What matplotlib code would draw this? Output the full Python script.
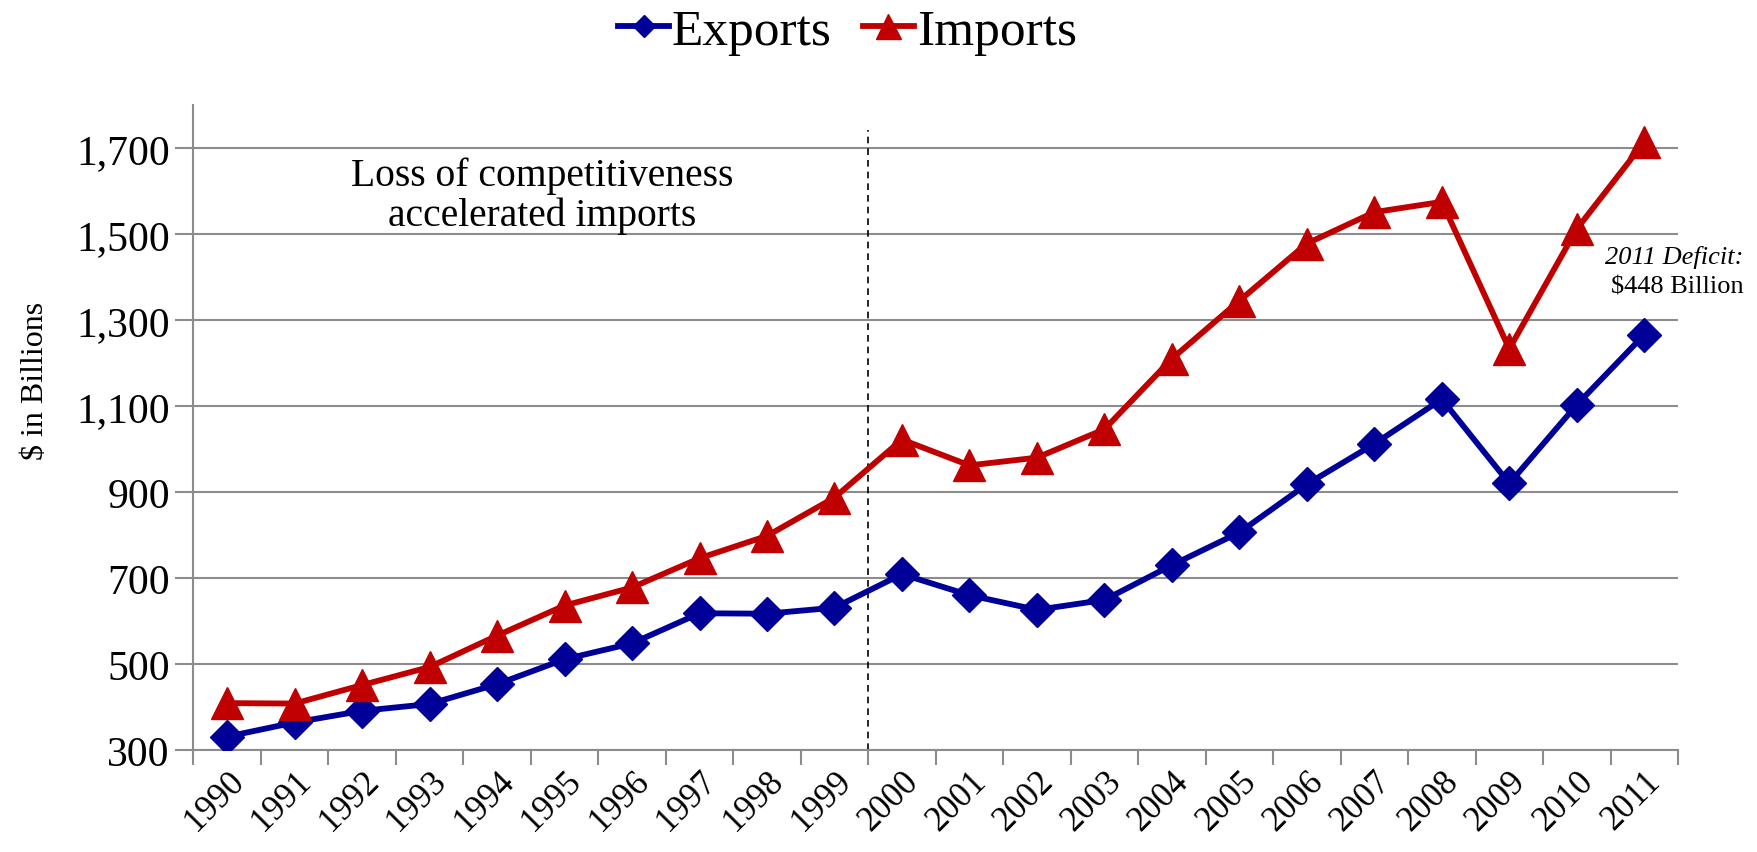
import numpy as np
import matplotlib.pyplot as plt
from matplotlib.lines import Line2D

years = [str(y) for y in range(1990, 2012)]
exports = [331, 364, 391, 407, 453, 511, 548, 618, 617, 631, 709, 660, 626, 649,
           730, 806, 918, 1012, 1116, 920, 1103, 1266]
imports = [409, 408, 451, 493, 566, 636, 678, 746, 798, 887, 1022, 962, 980, 1046,
           1210, 1345, 1478, 1551, 1575, 1233, 1512, 1714]
yticks = [300, 500, 700, 900, 1100, 1300, 1500, 1700]

blue = "#000099"
red = "#C00000"
grid_gray = "#8c8c8c"

plt.rcParams['font.family'] = ['Liberation Serif', 'DejaVu Serif']

fig = plt.figure(figsize=(17.58, 8.53), dpi=100)
ax = fig.add_axes([0.110, 0.1196, 0.8445, 0.756])

x = np.arange(len(years))
ax.plot(x, exports, color=blue, lw=4.2, marker="D", ms=17, zorder=3)
ax.plot(x, imports, color=red, lw=4.2, marker="^", ms=23, zorder=3)

ax.set_xlim(-0.5, len(years) - 0.5)
ax.set_ylim(300, 1800)

ax.set_yticks(yticks)
ax.set_yticklabels([f"{v:,}" for v in yticks], fontsize=30)
ax.yaxis.grid(True, color=grid_gray, lw=1.5)
ax.set_axisbelow(True)

# category ticks sit between years, labels at the centres
ax.set_xticks(np.arange(len(years) + 1) - 0.5)
ax.set_xticklabels([])
ax.set_xticks(x, minor=True)
ax.set_xticklabels(years, minor=True, rotation=45, ha="right",
                   rotation_mode="anchor", fontsize=25)
ax.tick_params(axis="x", which="minor", length=0, pad=10)
ax.tick_params(axis="x", which="major", length=11, width=1.5, color=grid_gray)
ax.tick_params(axis="y", length=13, width=1.5, color=grid_gray, pad=4)

for s in ["top", "right"]:
    ax.spines[s].set_visible(False)
for s in ["left", "bottom"]:
    ax.spines[s].set_color(grid_gray)
    ax.spines[s].set_linewidth(1.5)

fig.text(0.02, 0.553, "$ in Billions", fontsize=23, rotation=90,
         ha="center", va="center")

ax.plot([9.5, 9.5], [300, 1742], color="black", lw=1.2, ls=(0, (4, 3)), zorder=2)

ax.text(4.67, 1590, "Loss of competitiveness\naccelerated imports", fontsize=28.5,
        ha="center", va="center", linespacing=1.1)

ax.text(22.47, 1449, "2011 Deficit:", fontsize=19, style="italic", ha="right", va="center")
ax.text(22.47, 1379, "$448 Billion", fontsize=19, ha="right", va="center")

handles = [
    Line2D([], [], color=blue, lw=4.2, marker="D", ms=11),
    Line2D([], [], color=red, lw=4.2, marker="^", ms=18),
]
fig.legend(handles, ["Exports", "Imports"], loc="center", bbox_to_anchor=(0.482, 0.962),
           ncol=2, frameon=False, fontsize=37, handlelength=1.0, handletextpad=0.05,
           columnspacing=0.6)

fig.savefig("out.png", dpi=100)
